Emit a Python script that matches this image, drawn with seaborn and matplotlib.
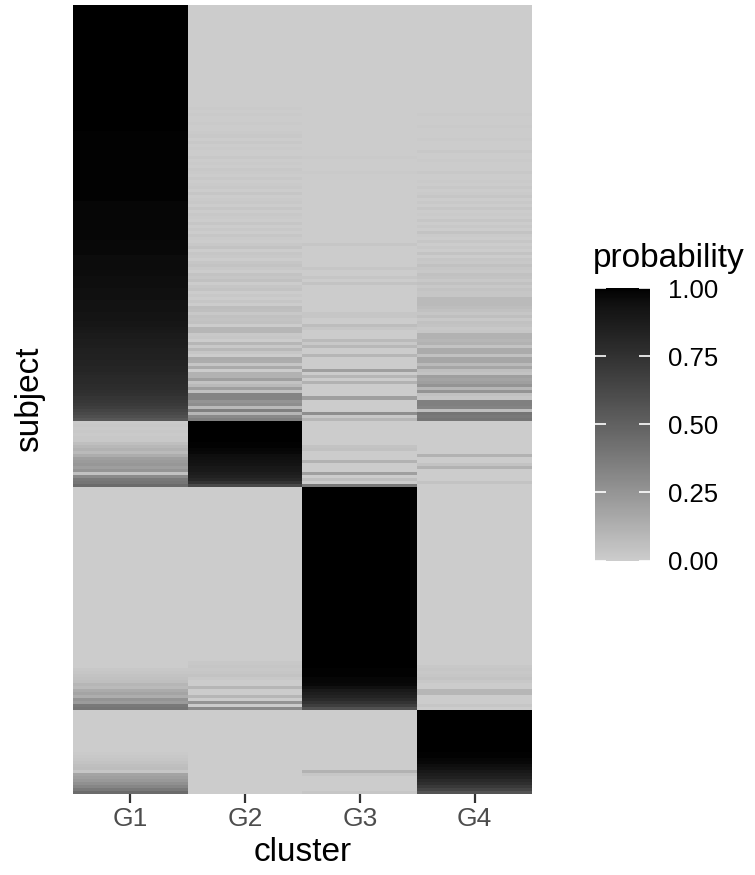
import numpy as np
import pandas as pd
import seaborn as sns
import matplotlib
matplotlib.use("Agg")
import matplotlib.pyplot as plt
from matplotlib.colors import ListedColormap

# Membership probabilities (in %) of each subject for the four clusters.
# Subjects are grouped by their most likely cluster (G1, G2, G3, G4 blocks)
# and sorted within each block by that cluster's probability.
clusters = ["G1", "G2", "G3", "G4"]
block_sizes = [138, 22, 74, 28]

prob_G1 = [
    # G1 block
    100, 100, 100, 100, 100, 100, 100, 100, 100, 100,
    100, 100, 100, 100, 100, 100, 100, 100, 100, 100,
    100, 100, 100, 100, 100, 100, 100, 100, 100, 100,
    100, 100, 100, 100, 100, 100, 100, 100, 100, 100,
    100, 100,
    99, 99, 99, 99, 99, 99, 99, 99, 99, 99,
    99, 99, 99, 99, 99, 99, 99, 99, 99, 99,
    99, 99, 99,
    98, 98, 98, 98, 98, 98, 98, 98, 98, 98, 98, 98, 98,
    97, 97, 97, 97, 97, 96, 96, 96, 96, 96,
    96, 96, 95, 95, 95, 95, 94, 94, 94, 94,
    93, 93, 93, 93, 92, 92, 92, 91, 91, 90,
    89, 88, 88, 87, 87, 86, 85,
    85, 84, 84, 83, 83, 82, 82,
    81, 80, 79, 79, 78, 77,
    76, 75, 73, 72, 70,
    68, 65, 62, 59, 55,
    # G2 block
    1, 2, 1, 2, 1, 2, 2, 6, 9, 12, 8, 14, 20, 22, 24, 21, 25, 5, 30, 38, 40, 45,
    # G3 block
    0, 0, 0, 0, 0, 0, 0, 0, 0, 0,
    0, 0, 0, 0, 0, 0, 0, 0, 0, 0,
    0, 0, 0, 0, 0, 0, 0, 0, 0, 0,
    0, 0, 0, 0, 0, 0, 0, 0, 0, 0,
    0, 0, 0, 0, 0, 0, 0, 0, 0, 0,
    0, 0, 0, 0, 0, 0, 0, 0, 0, 0,
    2, 3, 4, 5, 6, 10, 8, 15, 18, 14, 25, 22, 38, 40,
    # G4 block
    0, 0, 0, 0, 0, 0, 0, 0, 0, 0, 0, 0, 0, 0,
    1, 2, 3, 4, 6, 7, 3, 18, 20, 23, 27, 32, 38, 45,
]

prob_G2 = [
    # G1 block
    0, 0, 0, 0, 0, 0, 0, 0, 0, 0,
    0, 0, 0, 0, 0, 0, 0, 0, 0, 0,
    0, 0, 0, 0, 0, 0, 0, 0, 0, 0,
    0, 0, 0, 0,
    1, 0, 1, 0, 0, 1, 0, 0, 1, 2, 0, 2, 0, 1, 0, 0, 2, 0, 1, 0, 2, 1, 0, 2, 0, 1,
    2, 0, 3, 0, 1, 2, 0, 3, 0, 2, 1, 0, 3, 0, 2, 0, 3, 1, 0, 2, 4, 0, 3, 2, 0,
    3, 4, 2, 0, 4, 3, 5, 0, 3, 4, 0,
    2, 0, 3, 0, 7, 6, 2, 5, 4, 5, 0,
    10, 10, 2, 3, 0, 10, 2, 9, 3, 0, 15, 14, 3, 15, 0, 12,
    12, 20, 4, 8, 20, 5, 33, 33, 25, 28, 8, 35, 10, 30, 35,
    # G2 block
    100, 100, 100, 100, 100, 100, 100, 99, 99, 98, 97,
    95, 94, 93, 92, 90, 89, 87, 84, 81, 74, 62,
    # G3 block
    0, 0, 0, 0, 0, 0, 0, 0, 0, 0,
    0, 0, 0, 0, 0, 0, 0, 0, 0, 0,
    0, 0, 0, 0, 0, 0, 0, 0, 0, 0,
    0, 0, 0, 0, 0, 0, 0, 0, 0, 0,
    0, 0, 0, 0, 0, 0, 0, 0, 0, 0,
    0, 0, 0, 0, 0, 0, 0, 0,
    2, 3, 2, 3, 4, 2, 0, 0, 10, 0, 0, 10, 0, 25, 0, 30,
    # G4 block
    0, 0, 0, 0, 0, 0, 0, 0, 0, 0, 0, 0, 0, 0,
    0, 0, 0, 0, 0, 0, 0, 0, 0, 0, 0, 0, 0, 0,
]

prob_G3 = [
    # G1 block
    0, 0, 0, 0, 0, 0, 0, 0, 0, 0,
    0, 0, 0, 0, 0, 0, 0, 0, 0, 0,
    0, 0, 0, 0, 0, 0, 0, 0, 0, 0,
    0, 0, 0, 0, 0, 0, 0, 0, 0, 0,
    0, 0, 0, 0, 0, 0, 0, 0, 0, 0,
    1, 0, 0, 0, 0, 1, 0, 0, 0, 0,
    0, 0, 0, 0, 0, 0, 0, 0, 0, 0,
    0, 0, 0, 0, 0, 0, 0, 0, 0, 3,
    0, 0, 0, 0, 0, 0, 0, 3, 0, 0,
    3, 0, 4, 0, 0, 0, 0, 0, 0, 0,
    0, 0, 3, 3, 0, 0, 7, 3, 0, 0,
    0, 8, 2, 9, 0, 0, 10, 0, 0, 0,
    0, 20, 0, 10, 0, 12, 0, 0, 0, 0,
    20, 0, 0, 0, 0, 28, 2, 10,
    # G2 block
    0, 0, 0, 0, 0, 0, 0, 0, 4, 5, 0, 0, 0, 12, 0, 0, 0, 20, 0, 6, 0, 38,
    # G3 block
    100, 100, 100, 100, 100, 100, 100, 100, 100, 100,
    100, 100, 100, 100, 100, 100, 100, 100, 100, 100,
    100, 100, 100, 100, 100, 100, 100, 100, 100, 100,
    100, 100, 100, 100, 100, 100, 100, 100, 100, 100,
    100, 100, 100, 100, 100, 100, 100, 100, 100, 100,
    100, 100, 100, 100, 100, 100, 100, 100, 100, 100,
    99, 99, 99, 98, 98, 97, 94, 89, 86, 83, 79, 74, 68, 58,
    # G4 block
    0, 0, 0, 0, 0, 0, 0, 0, 0, 0, 0, 0, 0, 0,
    0, 0, 0, 0, 0, 0, 12, 3, 0, 0, 0, 0, 0, 3,
]

prob_G4 = [
    # G1 block
    0, 0, 0, 0, 0, 0, 0, 0, 0, 0,
    0, 0, 0, 0, 0, 0, 0, 0, 0, 0,
    0, 0, 0, 0, 0, 0, 0, 0, 0, 0,
    0, 0, 0, 0, 0, 0,
    1, 0, 0, 0, 1, 0, 0, 0, 1, 0, 0, 0, 2, 0, 0, 1, 0, 0, 0, 2, 0, 0, 1, 0,
    2, 0, 1, 3, 0, 2, 0, 3, 0, 1, 0, 3, 0, 2, 0, 4, 1, 0, 3, 0,
    2, 0, 4, 0, 3, 2, 5, 3, 2, 5, 4, 2, 5, 2, 4, 3,
    3, 8, 8, 8, 7, 5, 3, 6, 2, 5, 4, 2, 3, 12, 12, 10, 12, 4, 15, 15,
    5, 17, 17, 8, 17, 6, 4, 20, 18, 20, 25, 10, 25, 5, 3, 35, 35, 33, 6, 40,
    38, 40,
    # G2 block
    0, 0, 0, 0, 0, 0, 0, 0, 0, 0, 0, 12, 0, 0, 4, 12, 0, 0, 0, 0, 4, 0,
    # G3 block
    0, 0, 0, 0, 0, 0, 0, 0, 0, 0,
    0, 0, 0, 0, 0, 0, 0, 0, 0, 0,
    0, 0, 0, 0, 0, 0, 0, 0, 0, 0,
    0, 0, 0, 0, 0, 0, 0, 0, 0, 0,
    0, 0, 0, 0, 0, 0, 0, 0, 0, 0,
    0, 0, 0, 0, 0, 0, 0, 0, 0,
    2, 3, 2, 3, 4, 2, 0, 0, 10, 10, 0, 0, 0, 3, 0,
    # G4 block
    100, 100, 100, 100, 100, 100, 100, 100, 100, 100, 100, 100, 100, 100,
    99, 99, 98, 97, 95, 93, 90, 87, 84, 80, 76, 71, 65, 57,
]

n_subjects = sum(block_sizes)
for col in (prob_G1, prob_G2, prob_G3, prob_G4):
    assert len(col) == n_subjects, len(col)

df = pd.DataFrame(
    {"G1": prob_G1, "G2": prob_G2, "G3": prob_G3, "G4": prob_G4},
    index=pd.RangeIndex(1, n_subjects + 1, name="subject"),
)[clusters] / 100.0


def lab_l_to_gray(L):
    """Convert a CIE-Lab lightness (a=b=0) to an sRGB grey level in [0, 1]."""
    fy = (L + 16.0) / 116.0
    Y = np.where(fy ** 3 > 0.008856, fy ** 3, L / 903.3)
    return np.where(Y <= 0.0031308, 12.92 * Y, 1.055 * np.power(Y, 1 / 2.4) - 0.055)


# grey80 -> black gradient, interpolated in Lab space
lin_low = ((0.8 + 0.055) / 1.055) ** 2.4
L_low = 116.0 * lin_low ** (1 / 3) - 16.0
t = np.linspace(0, 1, 256)
g = np.clip(lab_l_to_gray(L_low * (1 - t)), 0, 1)
cmap = ListedColormap(np.column_stack([g, g, g]))

sns.set_style("white")
plt.rcParams["font.family"] = ["Liberation Sans", "DejaVu Sans"]
plt.rcParams["text.color"] = "black"

W, H = 755, 875
fig = plt.figure(figsize=(W / 100, H / 100), dpi=100)
ax = fig.add_axes([72.7 / W, 1 - 794 / H, (532 - 72.7) / W, (794 - 5) / H])
cax = fig.add_axes([595 / W, 1 - 560.5 / H, 55 / W, 272.5 / H])

sns.heatmap(
    df, ax=ax, cmap=cmap, vmin=0, vmax=1, cbar_ax=cax,
    xticklabels=True, yticklabels=False, linewidths=0,
)

ax.set_xlabel("cluster", fontsize=24, color="black", labelpad=4)
ax.set_ylabel("subject", fontsize=24, color="black", labelpad=20)
ax.tick_params(axis="x", length=6.5, width=1.6, color="#333333", pad=3,
               labelsize=19, labelcolor="#4D4D4D", bottom=True)
ax.tick_params(axis="y", left=False, length=0)
for s in ax.spines.values():
    s.set_visible(False)

cbar = ax.collections[0].colorbar
cbar.outline.set_visible(False)
ticks = [0, 0.25, 0.5, 0.75, 1.0]
cbar.set_ticks(ticks)
cbar.set_ticklabels([f"{v:.2f}" for v in ticks])
cax.tick_params(length=0, pad=13, labelsize=18.5, labelcolor="black")
tr = cax.get_yaxis_transform()
cax.hlines(ticks, 0, 0.2, transform=tr, colors="white", linewidth=1.2, clip_on=False)
cax.hlines(ticks, 0.8, 1.0, transform=tr, colors="white", linewidth=1.2, clip_on=False)

fig.text(593 / W, 1 - 267 / H, "probability", fontsize=24, va="baseline",
         ha="left", color="black")

fig.savefig("out.png", dpi=100)
